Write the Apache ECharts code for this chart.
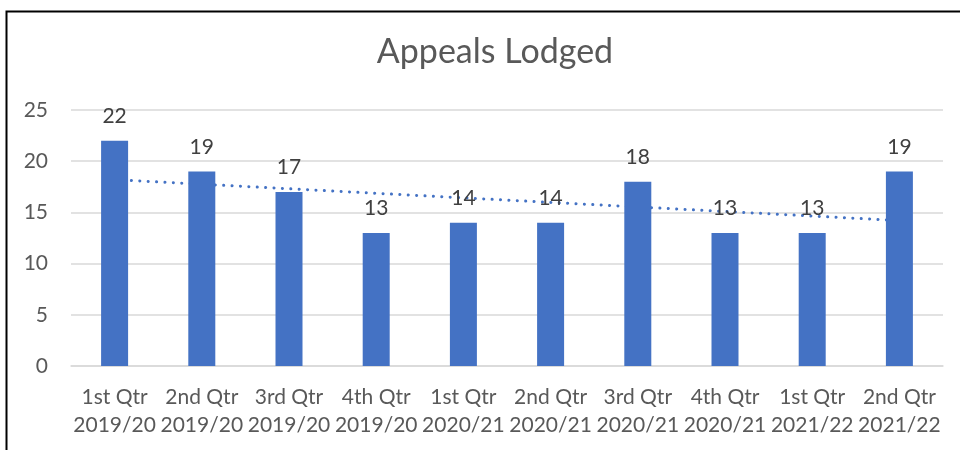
<!DOCTYPE html>
<html>
<head>
<meta charset="utf-8">
<script src="https://cdn.jsdelivr.net/npm/echarts@6/dist/echarts.min.js"></script>
<style>
    html, body {margin: 0; padding: 0; background: #fff;}
    #main {width: 960px; height: 450px;}
</style>
</head>
<body>
<div id="main"></div>
<script>
    const categories = [
        '1st Qtr\n2019/20', '2nd Qtr\n2019/20', '3rd Qtr\n2019/20', '4th Qtr\n2019/20',
        '1st Qtr\n2020/21', '2nd Qtr\n2020/21', '3rd Qtr\n2020/21', '4th Qtr\n2020/21',
        '1st Qtr\n2021/22', '2nd Qtr\n2021/22'
    ];
    const appeals = [22, 19, 17, 13, 14, 14, 18, 13, 13, 19];
    // trend line: only its two ends are known
    const trend = [18.2, null, null, null, null, null, null, null, null, 14.2];
    const yTicks = [0, 5, 10, 15, 20, 25];

    const font = 'Lato, "Liberation Sans", sans-serif';
    const grey = '#595959';

    const myChart = echarts.init(document.getElementById('main'));
    myChart.setOption({
        animation: false,
        title: {
            text: 'Appeals Lodged',
            left: 490,
            top: 30,
            textAlign: 'center',
            textStyle: {
                fontFamily: font,
                fontSize: 34,
                fontWeight: 'normal',
                color: grey
            }
        },
        graphic: [{
            type: 'rect',
            shape: {x: 6.5, y: 11.5, width: 1000, height: 500},
            style: {fill: 'none', stroke: '#000', lineWidth: 2}
        }],
        grid: {
            left: 71,
            right: 17,
            top: 110,
            bottom: 84
        },
        xAxis: {
            type: 'category',
            data: categories,
            axisTick: {show: false},
            axisLine: {lineStyle: {color: '#d9d9d9', width: 1.5}},
            axisLabel: {
                interval: 0,
                margin: 17,
                fontFamily: font,
                fontSize: 21,
                lineHeight: 28,
                color: grey
            }
        },
        yAxis: {
            type: 'value',
            min: yTicks[0],
            max: yTicks[yTicks.length - 1],
            interval: 5,
            axisLine: {show: false},
            axisTick: {show: false},
            splitLine: {lineStyle: {color: '#d9d9d9', width: 1.5}},
            axisLabel: {
                margin: 23,
                fontFamily: font,
                fontSize: 21,
                color: grey
            }
        },
        series: [
            {
                name: 'Trend',
                type: 'line',
                data: trend,
                connectNulls: true,
                symbol: 'none',
                z: 1,
                lineStyle: {
                    color: '#4472C4',
                    width: 3,
                    type: [0.1, 8.3],
                    cap: 'round'
                }
            },
            {
                name: 'Appeals Lodged',
                type: 'bar',
                data: appeals,
                barWidth: 27,
                z: 2,
                itemStyle: {color: '#4472C4'},
                label: {
                    show: true,
                    position: 'top',
                    distance: 14,
                    fontFamily: font,
                    fontSize: 21,
                    color: '#404040'
                }
            }
        ]
    });
</script>
</body>
</html>
